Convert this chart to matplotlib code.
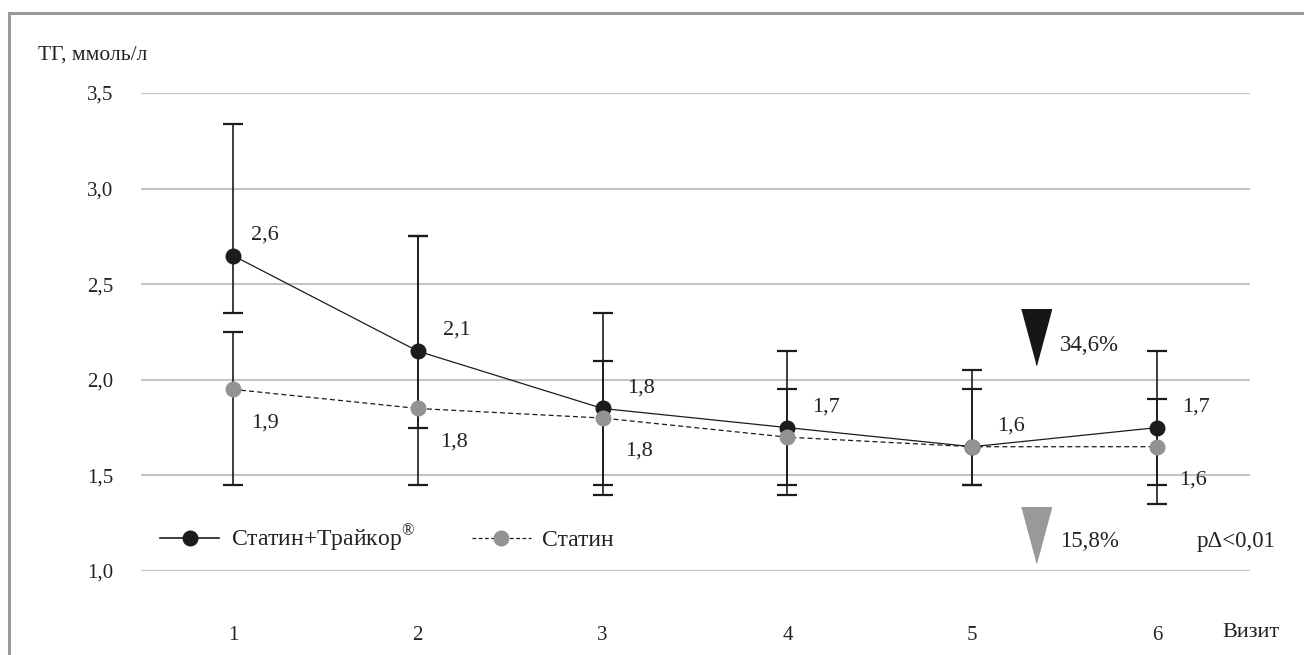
import matplotlib
matplotlib.use("Agg")
import matplotlib.pyplot as plt
import numpy as np
from matplotlib.lines import Line2D
from matplotlib.ticker import FuncFormatter

# ---- data ----
visits = [1, 2, 3, 4, 5, 6]
combo_mean = [2.65, 2.15, 1.85, 1.75, 1.65, 1.75]
combo_low = [2.35, 1.75, 1.40, 1.40, 1.45, 1.35]
combo_high = [3.34, 2.75, 2.35, 2.15, 2.05, 2.15]
statin_mean = [1.95, 1.85, 1.80, 1.70, 1.65, 1.65]
statin_low = [1.45, 1.45, 1.45, 1.45, 1.45, 1.45]
statin_high = [2.25, 2.75, 2.10, 1.95, 1.95, 1.90]
combo_labels = ["2,6", "2,1", "1,8", "1,7", "1,6", "1,7"]
statin_labels = ["1,9", "1,8", "1,8", "", "", "1,6"]
yticks = [1.0, 1.5, 2.0, 2.5, 3.0, 3.5]
series_names = ["Статин+Трайкор$^{\\mathrm{®}}$", "Статин"]
combo_drop = "34,6%"
statin_drop = "15,8%"
p_text = "pΔ<0,01"
y_title = "ТГ, ммоль/л"
x_title = "Визит"

plt.rcParams['font.family'] = ['Liberation Serif', 'DejaVu Serif']
plt.rcParams['mathtext.fontset'] = 'custom'
plt.rcParams['mathtext.rm'] = 'Liberation Serif'

BLACK = '#1c1c1c'
GREY = '#939393'
TXT = '#222222'

fig = plt.figure(figsize=(13.04, 6.55), dpi=100)
ax = fig.add_axes([140.5/1304, 1-571/655, (1249.5-140.5)/1304, (571-93)/655])

ax.set_xlim(0.5, 6.5)
ax.set_ylim(1.0, 3.5)
ax.set_yticks(yticks)
ax.yaxis.set_major_formatter(FuncFormatter(lambda v, p: f"{v:.1f}".replace('.', ',')))
ax.set_xticks(visits)
ax.tick_params(axis='y', length=0, pad=19.5, labelsize=15, labelcolor=TXT)
ax.tick_params(axis='x', length=0, pad=39.5, labelsize=15, labelcolor=TXT)
for s in ax.spines.values():
    s.set_visible(False)
ax.grid(axis='y', color='#c4c4c4', lw=1.5)
ax.set_axisbelow(True)

cm = np.array(combo_mean); sm = np.array(statin_mean)
ax.errorbar(visits, cm, yerr=[cm - np.array(combo_low), np.array(combo_high) - cm],
            fmt='none', ecolor=BLACK, elinewidth=1.2, capsize=7, capthick=1.6, zorder=2)
ax.errorbar(visits, sm, yerr=[sm - np.array(statin_low), np.array(statin_high) - sm],
            fmt='none', ecolor=BLACK, elinewidth=1.2, capsize=7, capthick=1.6, zorder=2)

ax.plot(visits, statin_mean, color=BLACK, lw=0.9, ls=(0, (4, 2.5)), zorder=3)
ax.plot(visits, combo_mean, color=BLACK, lw=0.9, zorder=3)
ax.plot(visits, combo_mean, ls='none', marker='o', ms=10.5, color=BLACK, mec=BLACK, zorder=4)
ax.plot(visits, statin_mean, ls='none', marker='o', ms=10.5, color=GREY, mec=GREY, zorder=5)

for i, (x, y, t) in enumerate(zip(visits, combo_mean, combo_labels)):
    dx = 23 if i == 0 else 28
    ax.annotate(t, (x, y), xytext=(dx, 15), textcoords='offset points',
                ha='center', va='center', fontsize=16, color=TXT)
for i, (x, y, t) in enumerate(zip(visits, statin_mean, statin_labels)):
    if t:
        dx = 23 if i == 0 else 26
        ax.annotate(t, (x, y), xytext=(dx, -24), textcoords='offset points',
                    ha='center', va='center', fontsize=16, color=TXT)

# triangles
tri = [(-0.27, 0.5), (0.27, 0.5), (0.0, -0.5)]
ax.plot([5.346], [2.224], marker=tri, ms=40, color='#161616', mec='#161616', ls='none', zorder=5)
ax.plot([5.346], [1.188], marker=tri, ms=40, color='#999999', mec='#999999', ls='none', zorder=5)
ax.text(5.632, 2.177, combo_drop, ha='center', va='center', fontsize=16.5, color=TXT)
ax.text(5.632, 1.152, statin_drop, ha='center', va='center', fontsize=16.5, color=TXT)
ax.text(6.427, 1.152, p_text, ha='center', va='center', fontsize=16.5, color=TXT)

# legend
h1 = Line2D([], [], color=BLACK, lw=1.2, marker='o', ms=10.5, mfc=BLACK, mec=BLACK)
h2 = Line2D([], [], color=BLACK, lw=0.9, ls=(0, (3, 2)), marker='o', ms=10.5, mfc=GREY, mec=GREY)
ax.legend([h1, h2], series_names, loc='center left', bbox_to_anchor=(0.0176, 0.069),
          ncol=2, frameon=False, fontsize=17, handlelength=2.5, handletextpad=0.5,
          columnspacing=2.4, borderpad=0, borderaxespad=0, labelcolor=TXT)

fig.text(38/1304, 1-55/655, y_title, ha='left', va='center', fontsize=15.5, color=TXT)
ax.text((1251-140.5)/1109, -0.128, x_title, transform=ax.transAxes, ha='center', va='center',
        fontsize=16, color=TXT)

# frame (top + left)
fig.add_artist(Line2D([8.5/1304, 8.5/1304], [0, 1-12.5/655], transform=fig.transFigure,
                      color='#9a9a9a', lw=2.2))
fig.add_artist(Line2D([8.5/1304, 1.0], [1-12.5/655, 1-12.5/655], transform=fig.transFigure,
                      color='#9a9a9a', lw=2.2))

fig.savefig('out.png', dpi=100)
